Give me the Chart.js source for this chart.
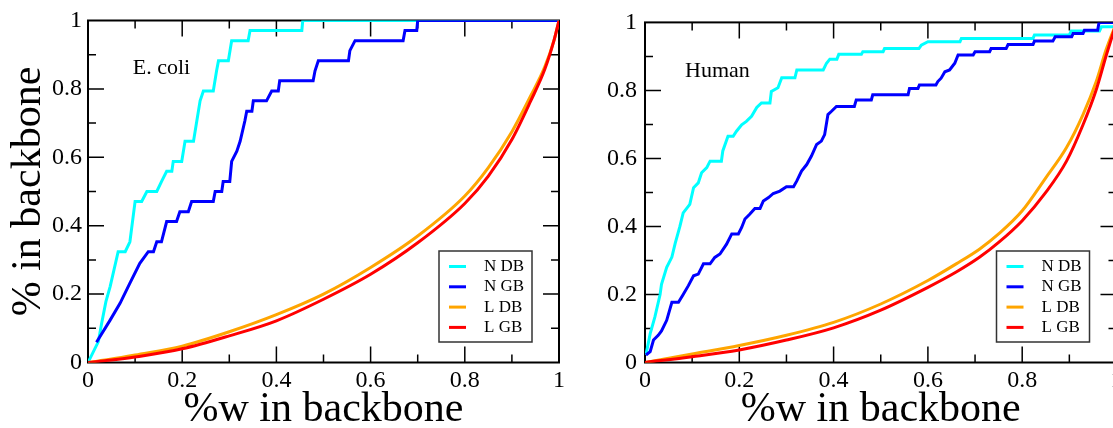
<!DOCTYPE html>
<html><head><meta charset="utf-8">
<script src="https://cdn.jsdelivr.net/npm/chart.js@4.4.1/dist/chart.umd.min.js"></script>
<style>
html,body{margin:0;padding:0;background:#fff;}
body{width:1113px;height:428px;overflow:hidden;position:relative;}
#c1{position:absolute;left:0;top:0;width:590px;height:428px;}
#c2{position:absolute;left:590px;top:0;width:540px;height:428px;}
</style></head><body>
<canvas id="c1" width="590" height="428"></canvas>
<canvas id="c2" width="540" height="428"></canvas>
<script>
const seriesLabels = ['N DB', 'N GB', 'L DB', 'L GB'];
const seriesColors = ['#00ffff', '#0000ff', '#ffa500', '#ff0000'];
const tickLabels = ['0', '0.2', '0.4', '0.6', '0.8', '1'];
const panelNames = ['E. coli', 'Human'];
const xTitle = '%w in backbone';
const yTitle = '% in backbone';

// ---- E. coli panel ----
const ecoliNdbX = [0, 0.022, 0.029, 0.038, 0.047, 0.064, 0.079, 0.089, 0.1, 0.114, 0.125, 0.146, 0.156, 0.167, 0.178, 0.181, 0.199, 0.206, 0.224, 0.231, 0.238, 0.245, 0.266, 0.273, 0.277, 0.298, 0.305, 0.34, 0.344, 0.454, 0.456, 1];
const ecoliNdbY = [0, 0.061, 0.115, 0.178, 0.222, 0.324, 0.324, 0.353, 0.471, 0.471, 0.5, 0.5, 0.529, 0.559, 0.559, 0.588, 0.588, 0.647, 0.647, 0.706, 0.765, 0.794, 0.794, 0.853, 0.882, 0.882, 0.941, 0.941, 0.971, 0.971, 1, 1];
const ecoliNgbX = [0.018, 0.047, 0.068, 0.089, 0.11, 0.128, 0.139, 0.146, 0.156, 0.167, 0.188, 0.195, 0.213, 0.22, 0.266, 0.27, 0.284, 0.287, 0.301, 0.305, 0.316, 0.323, 0.333, 0.337, 0.348, 0.351, 0.379, 0.39, 0.404, 0.407, 0.478, 0.482, 0.489, 0.553, 0.556, 0.567, 0.669, 0.673, 0.698, 0.7, 1];
const ecoliNgbY = [0.059, 0.124, 0.173, 0.232, 0.29, 0.324, 0.324, 0.353, 0.353, 0.412, 0.412, 0.441, 0.441, 0.471, 0.471, 0.5, 0.5, 0.529, 0.529, 0.588, 0.618, 0.647, 0.706, 0.735, 0.735, 0.765, 0.765, 0.794, 0.794, 0.824, 0.824, 0.853, 0.882, 0.882, 0.912, 0.941, 0.941, 0.971, 0.971, 1, 1];
const ecoliLX = [0, 0.05, 0.1, 0.2, 0.3, 0.4, 0.5, 0.6, 0.7, 0.8, 0.85, 0.9, 0.94, 0.97, 0.99, 1];
const ecoliLdbY = [0, 0.01, 0.022, 0.048, 0.09, 0.14, 0.2, 0.278, 0.37, 0.487, 0.57, 0.675, 0.78, 0.865, 0.945, 1];
const ecoliLgbY = [0, 0.007, 0.016, 0.04, 0.078, 0.122, 0.185, 0.258, 0.35, 0.465, 0.545, 0.652, 0.765, 0.858, 0.945, 1];

// ---- Human panel ----
const humanNdbX = [0.002, 0.011, 0.021, 0.032, 0.035, 0.046, 0.057, 0.064, 0.074, 0.081, 0.095, 0.103, 0.113, 0.12, 0.131, 0.138, 0.162, 0.165, 0.176, 0.187, 0.194, 0.205, 0.215, 0.226, 0.237, 0.247, 0.265, 0.268, 0.282, 0.29, 0.318, 0.322, 0.378, 0.385, 0.392, 0.407, 0.411, 0.459, 0.462, 0.505, 0.508, 0.581, 0.586, 0.6, 0.668, 0.671, 0.823, 0.826, 0.9, 0.904, 0.964, 0.968, 1];
const humanNdbY = [0.022, 0.085, 0.134, 0.2, 0.23, 0.28, 0.31, 0.35, 0.4, 0.44, 0.465, 0.514, 0.528, 0.558, 0.573, 0.592, 0.592, 0.622, 0.665, 0.665, 0.68, 0.699, 0.709, 0.724, 0.75, 0.763, 0.763, 0.797, 0.808, 0.837, 0.837, 0.86, 0.86, 0.88, 0.892, 0.892, 0.906, 0.906, 0.914, 0.914, 0.923, 0.923, 0.933, 0.943, 0.943, 0.953, 0.953, 0.963, 0.963, 0.975, 0.975, 0.987, 0.987];
const humanNgbX = [0.002, 0.011, 0.018, 0.028, 0.035, 0.046, 0.057, 0.071, 0.081, 0.092, 0.103, 0.113, 0.124, 0.138, 0.148, 0.159, 0.173, 0.184, 0.198, 0.205, 0.212, 0.222, 0.233, 0.244, 0.251, 0.262, 0.272, 0.286, 0.3, 0.315, 0.322, 0.332, 0.343, 0.353, 0.364, 0.374, 0.381, 0.388, 0.395, 0.406, 0.444, 0.448, 0.48, 0.483, 0.558, 0.561, 0.579, 0.582, 0.617, 0.621, 0.628, 0.636, 0.646, 0.657, 0.664, 0.696, 0.7, 0.731, 0.734, 0.766, 0.77, 0.823, 0.826, 0.865, 0.87, 0.905, 0.908, 0.929, 0.932, 0.96, 0.963, 1];
const humanNgbY = [0.022, 0.032, 0.066, 0.08, 0.093, 0.124, 0.177, 0.177, 0.2, 0.226, 0.255, 0.26, 0.29, 0.29, 0.309, 0.319, 0.348, 0.378, 0.378, 0.397, 0.422, 0.436, 0.453, 0.453, 0.475, 0.485, 0.497, 0.504, 0.517, 0.517, 0.534, 0.563, 0.582, 0.607, 0.641, 0.651, 0.67, 0.729, 0.738, 0.753, 0.753, 0.772, 0.772, 0.787, 0.787, 0.806, 0.806, 0.816, 0.816, 0.826, 0.836, 0.855, 0.86, 0.88, 0.904, 0.904, 0.914, 0.914, 0.923, 0.923, 0.935, 0.935, 0.945, 0.945, 0.958, 0.958, 0.967, 0.967, 0.977, 0.977, 1, 1];
const humanLX = [0, 0.1, 0.2, 0.3, 0.4, 0.5, 0.6, 0.66, 0.71, 0.75, 0.8, 0.85, 0.894, 0.929, 0.957, 0.978, 1];
const humanLdbY = [0, 0.025, 0.05, 0.08, 0.118, 0.172, 0.241, 0.29, 0.334, 0.378, 0.446, 0.543, 0.632, 0.729, 0.826, 0.92, 1];
const humanLgbY = [0, 0.017, 0.037, 0.066, 0.102, 0.154, 0.221, 0.266, 0.31, 0.353, 0.417, 0.5, 0.592, 0.699, 0.802, 0.902, 1];

const zip = (xs, ys) => xs.map((x, i) => ({x: x, y: ys[i]}));

const FAMILY = "'Liberation Serif', 'Times New Roman', serif";
Chart.defaults.color = '#000';
Chart.defaults.font.family = FAMILY;

const framePlugin = {
  id: 'frame',
  beforeDatasetsDraw(chart, args, opts) {
    const {ctx, chartArea: a} = chart;
    const xs = chart.scales.x, ys = chart.scales.y;
    ctx.save();
    ctx.strokeStyle = '#000';
    ctx.lineWidth = 2;
    ctx.strokeRect(a.left, a.top, a.right - a.left, a.bottom - a.top);
    ctx.lineWidth = 1.5;
    ctx.beginPath();
    for (let i = 1; i < 10; i++) {
      const v = i / 10;
      const len = i % 2 === 0 ? 16 : 8;
      const px = xs.getPixelForValue(v), py = ys.getPixelForValue(v);
      ctx.moveTo(px, a.bottom); ctx.lineTo(px, a.bottom - len);
      ctx.moveTo(px, a.top); ctx.lineTo(px, a.top + len);
      ctx.moveTo(a.left, py); ctx.lineTo(a.left + len, py);
      ctx.moveTo(a.right, py); ctx.lineTo(a.right - len, py);
    }
    ctx.stroke();
    ctx.fillStyle = '#000';
    ctx.font = "22px " + FAMILY;
    ctx.textAlign = 'left';
    ctx.textBaseline = 'alphabetic';
    ctx.fillText(opts.label, xs.getPixelForValue(opts.lx), ys.getPixelForValue(opts.ly));
    ctx.restore();
  }
};

const boxLegendPlugin = {
  id: 'boxLegend',
  afterDatasetsDraw(chart) {
    const {ctx, chartArea: a} = chart;
    const left = a.right - 120, right = a.right - 27;
    const top = a.bottom - 111.5, bottom = a.bottom - 20.5;
    ctx.save();
    ctx.fillStyle = '#fff';
    ctx.fillRect(left, top, right - left, bottom - top);
    ctx.strokeStyle = '#333';
    ctx.lineWidth = 1.5;
    ctx.strokeRect(left, top, right - left, bottom - top);
    ctx.font = "17px " + FAMILY;
    ctx.textBaseline = 'middle';
    ctx.textAlign = 'left';
    chart.data.datasets.forEach((ds, i) => {
      const yy = top + 15.5 + i * 20.3;
      ctx.strokeStyle = ds.borderColor;
      ctx.lineWidth = 3;
      ctx.beginPath();
      ctx.moveTo(left + 10, yy); ctx.lineTo(left + 27, yy);
      ctx.stroke();
      ctx.fillStyle = '#000';
      ctx.fillText(ds.label, left + 45, yy);
    });
    ctx.restore();
  }
};

function makeDatasets(series) {
  return series.map((pts, i) => ({
    label: seriesLabels[i],
    data: pts,
    borderColor: seriesColors[i],
    backgroundColor: seriesColors[i],
    borderWidth: 3,
    pointRadius: 0,
    showLine: true,
    fill: false,
    cubicInterpolationMode: i >= 2 ? 'monotone' : 'default',
    tension: 0,
    order: 4 - i
  }));
}

function makeChart(canvasId, series, panelIdx, opt) {
  return new Chart(document.getElementById(canvasId), {
    type: 'scatter',
    data: {datasets: makeDatasets(series)},
    plugins: [framePlugin, boxLegendPlugin],
    options: {
      responsive: false,
      animation: false,
      events: [],
      layout: {padding: {top: 20.5, right: opt.padRight, bottom: 0, left: 0}},
      plugins: {
        legend: {display: false},
        tooltip: {enabled: false},
        frame: {label: panelNames[panelIdx], lx: opt.lx, ly: opt.ly}
      },
      scales: {
        x: {
          type: 'linear', min: 0, max: 1,
          grid: {display: false, drawTicks: false},
          border: {display: false},
          ticks: {
            stepSize: 0.2, padding: 4, maxRotation: 0, autoSkip: false,
            font: {family: FAMILY, size: 24},
            callback: (v) => tickLabels[Math.round(v * 5)]
          },
          title: {display: true, text: xTitle, font: {family: FAMILY, size: 42, lineHeight: 1}, padding: {top: 0, bottom: -3}},
          afterFit: (s) => { s.height = 65.5; }
        },
        y: {
          type: 'linear', min: 0, max: 1,
          grid: {display: false, drawTicks: false},
          border: {display: false},
          ticks: {
            stepSize: 0.2, padding: opt.yPad, autoSkip: false,
            font: {family: FAMILY, size: 24},
            callback: (v) => tickLabels[Math.round(v * 5)]
          },
          title: {display: opt.showYTitle, text: yTitle, font: {family: FAMILY, size: 42, lineHeight: 1}, padding: {top: 8, bottom: 0}},
          afterFit: (s) => { s.width = opt.yWidth; }
        }
      }
    }
  });
}

makeChart('c1', [
  zip(ecoliNdbX, ecoliNdbY),
  zip(ecoliNgbX, ecoliNgbY),
  zip(ecoliLX, ecoliLdbY),
  zip(ecoliLX, ecoliLgbY)
], 0, {padRight: 31, yWidth: 88, yPad: 6, showYTitle: true, lx: 0.095, ly: 0.843});

makeChart('c2', [
  zip(humanNdbX, humanNdbY),
  zip(humanNgbX, humanNgbY),
  zip(humanLX, humanLdbY),
  zip(humanLX, humanLgbY)
], 1, {padRight: 13.5, yWidth: 55, yPad: 8, showYTitle: false, lx: 0.085, ly: 0.84});
</script>
</body></html>
